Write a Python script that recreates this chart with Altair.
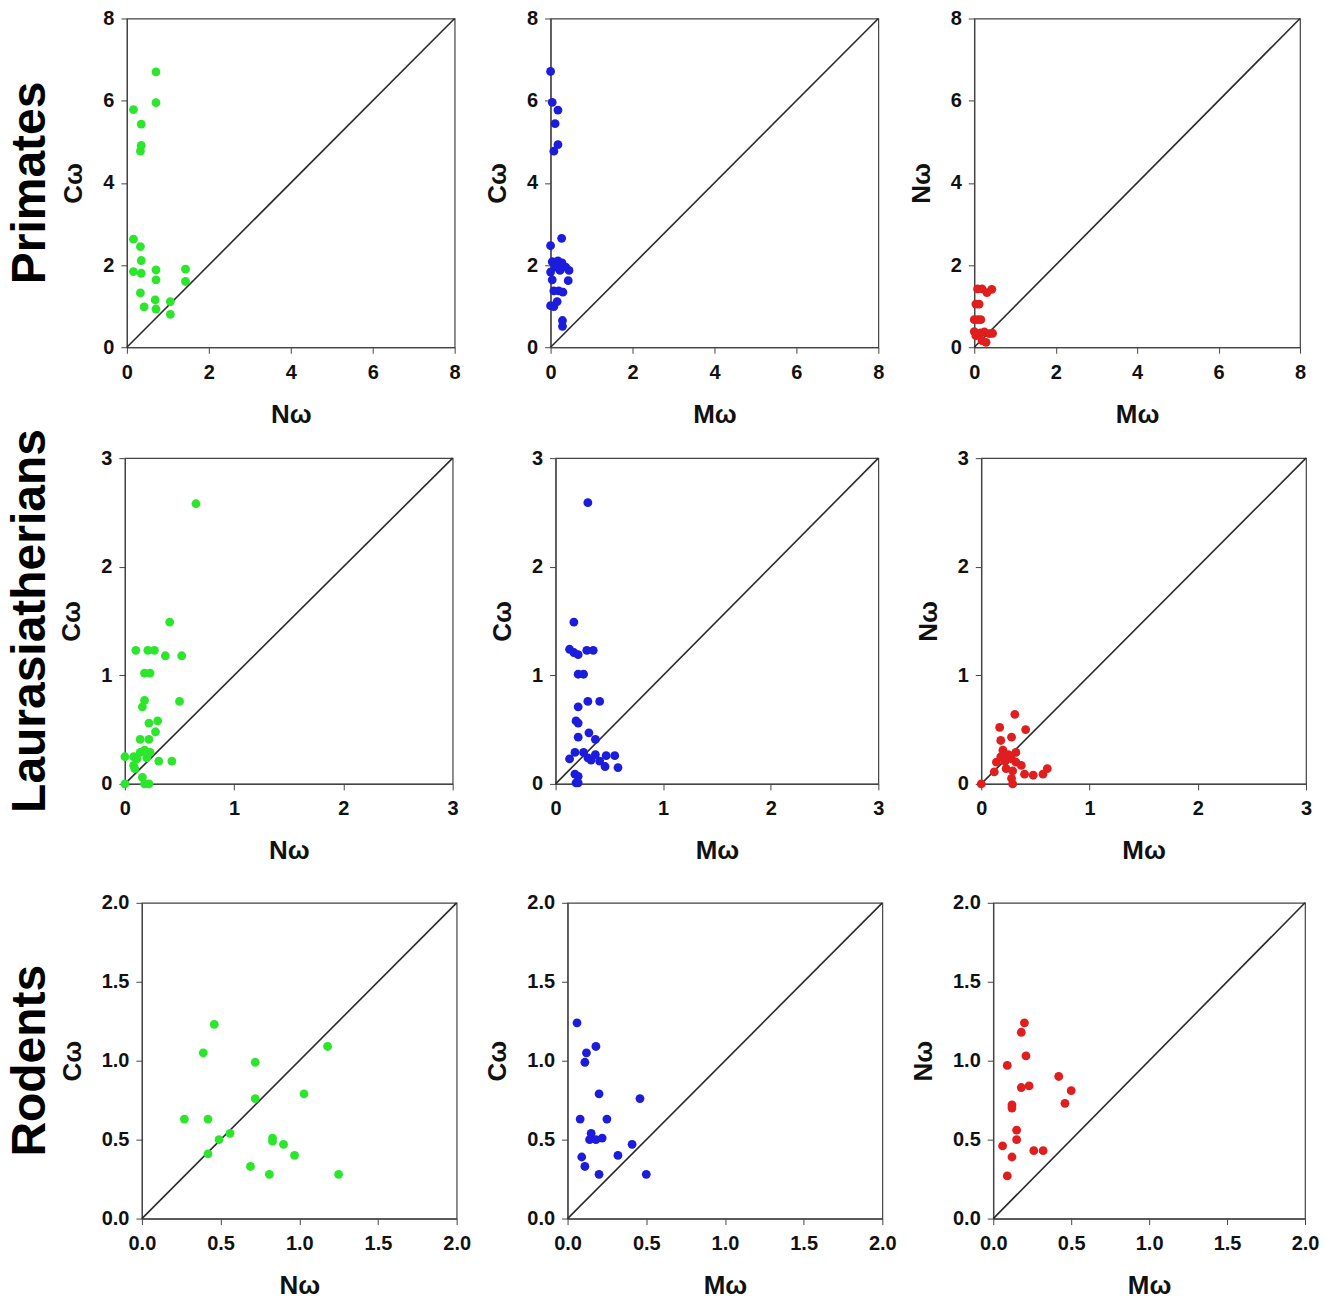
import altair as alt
import pandas as pd

# ---------------- data ----------------
ROWS = ["Primates", "Laurasiatherians", "Rodents"]
AXIS_MAX = [8, 3, 2]
TICKS = [[0, 2, 4, 6, 8], [0, 1, 2, 3], [0, 0.5, 1.0, 1.5, 2.0]]
TICK_FMT = ["d", "d", ".1f"]
X_TITLES = ["Nω", "Mω", "Mω"]
Y_TITLES = ["Cω", "Cω", "Nω"]
COLORS = ["#2ce62c", "#1c1cdc", "#e01e1e"]

# Primates
P_NC_N = [0.71, 0.71, 0.16, 0.35, 0.35, 0.33, 0.16, 0.33, 0.35, 0.16, 0.35, 0.71, 0.71, 1.43, 1.43, 0.33, 0.42, 0.69, 0.71, 1.06, 1.06]
P_NC_C = [6.70, 5.95, 5.78, 5.43, 4.91, 4.77, 2.63, 2.45, 2.11, 1.84, 1.80, 1.88, 1.64, 1.90, 1.60, 1.32, 0.98, 1.15, 0.93, 1.11, 0.80]
P_MC_M = [0.0, 0.04, 0.18, 0.11, 0.18, 0.08, 0.0, 0.27, 0.04, 0.18, 0.28, 0.12, 0.37, 0.45, 0.0, 0.23, 0.04, 0.43, 0.08, 0.20, 0.30, 0.16, 0.08, 0.0, 0.29, 0.29]
P_MC_C = [6.71, 5.96, 5.77, 5.44, 4.93, 4.77, 2.47, 2.65, 2.08, 2.10, 2.05, 1.95, 1.95, 1.87, 1.83, 1.87, 1.64, 1.62, 1.37, 1.37, 1.34, 1.11, 0.99, 1.01, 0.65, 0.51]
P_MN_M = [0.08, 0.19, 0.31, 0.43, 0.04, 0.12, 0.0, 0.08, 0.16, 0.0, 0.08, 0.16, 0.25, 0.37, 0.45, 0.19, 0.29, 0.04]
P_MN_N = [1.42, 1.42, 1.33, 1.41, 1.05, 1.05, 0.67, 0.67, 0.67, 0.38, 0.33, 0.35, 0.37, 0.33, 0.34, 0.16, 0.12, 0.28]

# Laurasiatherians
L_NC_N = [0.65, 0.41, 0.10, 0.21, 0.27, 0.37, 0.52, 0.18, 0.23, 0.18, 0.16, 0.50, 0.22, 0.30, 0.28, 0.14, 0.22, 0.0, 0.08, 0.14, 0.18, 0.23, 0.11, 0.20, 0.31, 0.43, 0.08, 0.09, 0.16, 0.18, 0.22, 0.0]
L_NC_C = [2.58, 1.49, 1.23, 1.23, 1.23, 1.18, 1.18, 1.02, 1.02, 0.77, 0.71, 0.76, 0.56, 0.58, 0.48, 0.41, 0.41, 0.25, 0.25, 0.29, 0.31, 0.29, 0.23, 0.24, 0.21, 0.21, 0.17, 0.14, 0.06, 0.0, 0.0, 0.0]
L_MC_M = [0.30, 0.17, 0.13, 0.17, 0.21, 0.29, 0.35, 0.21, 0.26, 0.30, 0.41, 0.21, 0.19, 0.21, 0.31, 0.21, 0.37, 0.13, 0.18, 0.26, 0.30, 0.37, 0.41, 0.46, 0.47, 0.55, 0.58, 0.33, 0.18, 0.21, 0.19, 0.21]
L_MC_C = [2.59, 1.49, 1.24, 1.21, 1.19, 1.23, 1.23, 1.01, 1.01, 0.76, 0.76, 0.71, 0.58, 0.56, 0.47, 0.43, 0.41, 0.23, 0.29, 0.29, 0.24, 0.27, 0.21, 0.16, 0.26, 0.26, 0.15, 0.22, 0.09, 0.07, 0.01, 0.01]
L_MN_M = [0.31, 0.17, 0.41, 0.18, 0.28, 0.20, 0.32, 0.14, 0.22, 0.28, 0.32, 0.37, 0.23, 0.29, 0.40, 0.48, 0.57, 0.61, 0.12, 0.29, 0.28, 0.0, 0.25, 0.18]
L_MN_N = [0.64, 0.52, 0.50, 0.40, 0.43, 0.31, 0.29, 0.20, 0.21, 0.23, 0.20, 0.17, 0.14, 0.12, 0.09, 0.08, 0.09, 0.14, 0.11, 0.00, 0.05, 0.0, 0.27, 0.25]

# Rodents
R_NC_N = [0.46, 0.39, 0.72, 1.18, 1.03, 0.72, 0.27, 0.42, 0.56, 0.49, 0.83, 0.83, 0.90, 0.97, 0.42, 0.69, 0.81, 1.25]
R_NC_C = [1.23, 1.05, 0.99, 1.09, 0.79, 0.76, 0.63, 0.63, 0.54, 0.50, 0.51, 0.49, 0.47, 0.40, 0.41, 0.33, 0.28, 0.28]
R_MC_M = [0.06, 0.18, 0.12, 0.11, 0.20, 0.46, 0.08, 0.25, 0.15, 0.14, 0.18, 0.22, 0.41, 0.09, 0.32, 0.11, 0.20, 0.50]
R_MC_C = [1.24, 1.09, 1.05, 0.99, 0.79, 0.76, 0.63, 0.63, 0.54, 0.50, 0.50, 0.51, 0.47, 0.39, 0.40, 0.33, 0.28, 0.28]
R_MN_M = [0.20, 0.18, 0.21, 0.09, 0.42, 0.50, 0.18, 0.23, 0.46, 0.12, 0.12, 0.15, 0.15, 0.06, 0.26, 0.32, 0.12, 0.09]
R_MN_N = [1.24, 1.18, 1.03, 0.97, 0.90, 0.81, 0.83, 0.84, 0.73, 0.72, 0.70, 0.56, 0.50, 0.46, 0.43, 0.43, 0.39, 0.27]

PANELS = [
    [(P_NC_N, P_NC_C), (P_MC_M, P_MC_C), (P_MN_M, P_MN_N)],
    [(L_NC_N, L_NC_C), (L_MC_M, L_MC_C), (L_MN_M, L_MN_N)],
    [(R_NC_N, R_NC_C), (R_MC_M, R_MC_C), (R_MN_M, R_MN_N)],
]

# ---------------- layout ----------------
FONT = "Liberation Sans"
ROW_W = [[328, 328, 326], [328, 323, 325], [315, 315, 312]]
ROW_H = [329, 326, 316]
ROW_SP = [96, 103, 111]
LABEL_W = [24, 15, 24]
FRAME = "#444444"


def panel(xs, ys, xt, yt, mx, ticks, fmt, color, w, h):
    pts = pd.DataFrame({"x": xs, "y": ys})
    diag = pd.DataFrame({"x": [0, mx], "y": [0, mx]})
    xsc = alt.Scale(domain=[0, mx], nice=False, zero=True)
    ysc = alt.Scale(domain=[0, mx], nice=False, zero=True)
    xax = alt.Axis(values=ticks, format=fmt, title=xt)
    yax = alt.Axis(values=ticks, format=fmt, title=yt)
    enc = dict(x=alt.X("x:Q", scale=xsc, axis=xax), y=alt.Y("y:Q", scale=ysc, axis=yax))
    line = alt.Chart(diag).mark_line(color="#2a2a2a", strokeWidth=1.6).encode(**enc)
    dots = alt.Chart(pts).mark_circle(size=78, color=color, opacity=1).encode(**enc)
    return alt.layer(line, dots).properties(width=w, height=h)


def label(name, w, h):
    return (
        alt.Chart(pd.DataFrame({"t": [name]}))
        .mark_text(angle=270, align="center", baseline="top", fontSize=48,
                   fontWeight="bold", font=FONT, color="#000000")
        .encode(text="t:N", x=alt.value(0), y=alt.value(h / 2))
        .properties(width=w, height=h, view=alt.ViewBackground(stroke="transparent", strokeWidth=0))
    )


rows = []
for r in range(3):
    charts = [label(ROWS[r], LABEL_W[r], ROW_H[r])]
    for c in range(3):
        xs, ys = PANELS[r][c]
        charts.append(panel(xs, ys, X_TITLES[c], Y_TITLES[c], AXIS_MAX[r], TICKS[r],
                            TICK_FMT[r], COLORS[c], ROW_W[r][c], ROW_H[r]))
    rows.append(alt.hconcat(*charts, spacing=ROW_SP[r], bounds="flush"))

chart = (
    alt.vconcat(rows[0], alt.vconcat(rows[1], rows[2], spacing=27), spacing=0)
    .properties(padding={"left": 6, "top": 7, "right": 5, "bottom": 5}, background="white")
    .configure_view(stroke=FRAME, strokeWidth=1.2)
    .configure_axis(
        grid=False,
        labelFont=FONT, labelFontSize=20, labelFontWeight="bold", labelColor="#111111",
        titleFont=FONT, titleFontSize=26, titleFontWeight="bold", titleColor="#111111",
        domainColor=FRAME, tickColor=FRAME, tickSize=6, domainWidth=1.2,
        labelFlush=False, labelOverlap=False,
    )
    .configure_axisX(labelPadding=9, titlePadding=19)
    .configure_axisY(labelPadding=7, titlePadding=16)
)

chart.save("out.html", embed_options={"renderer": "svg", "actions": False})
